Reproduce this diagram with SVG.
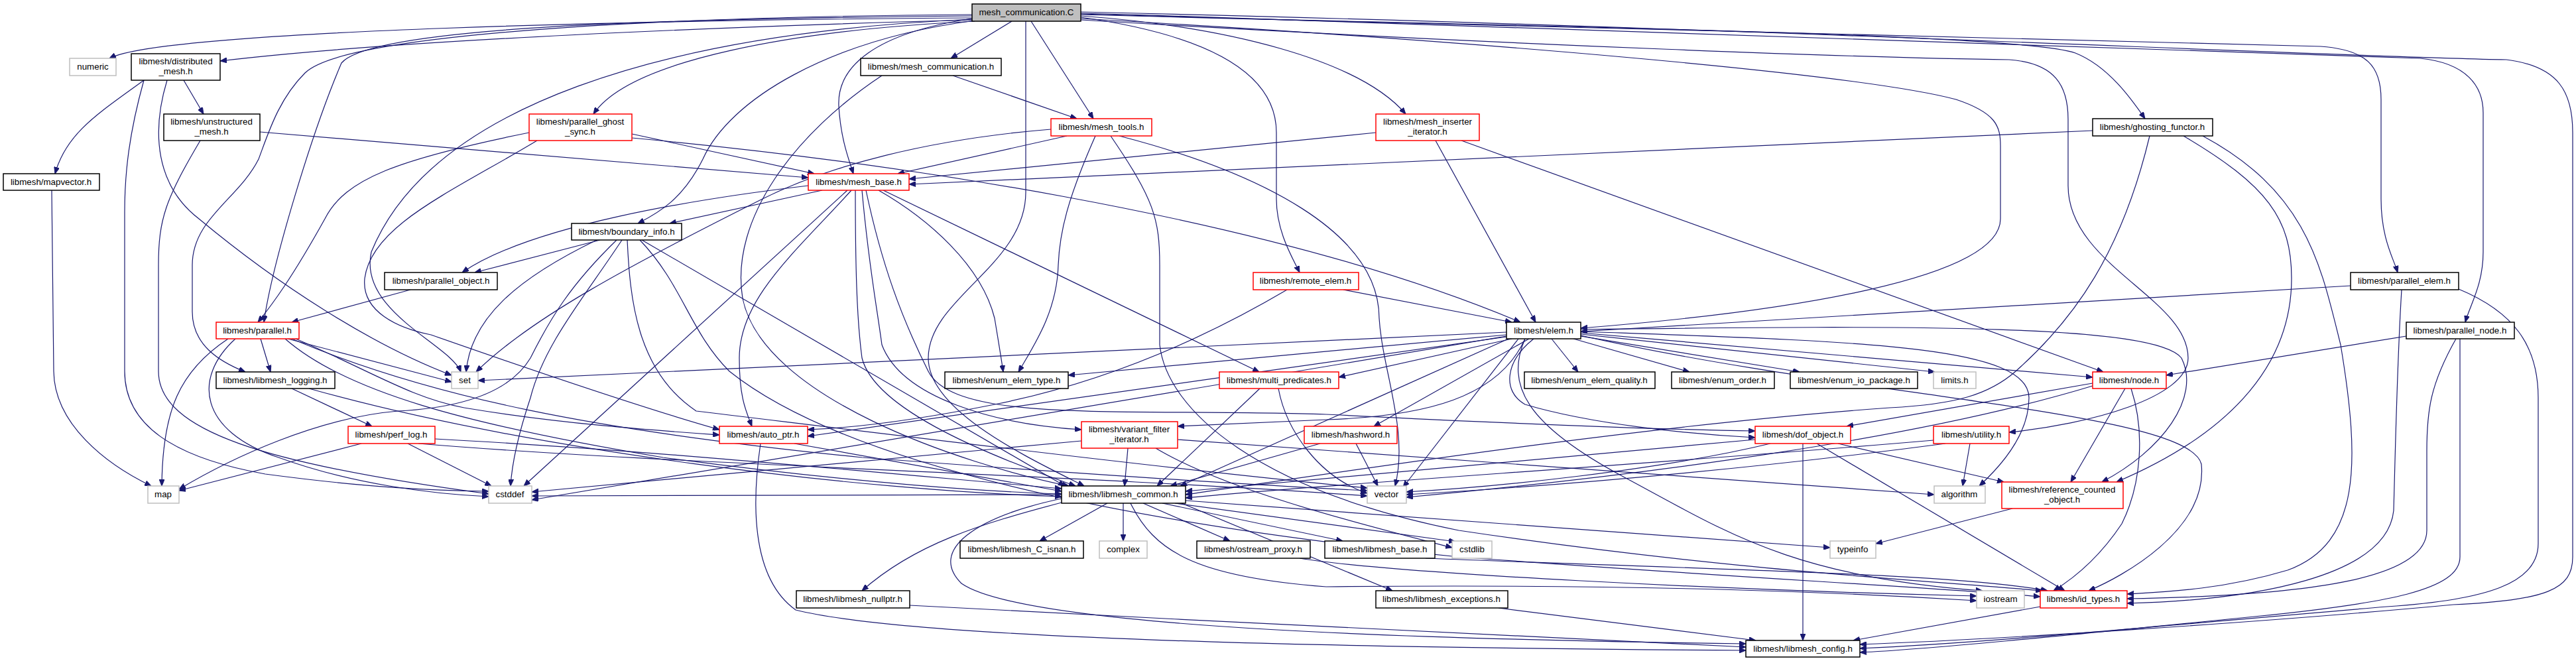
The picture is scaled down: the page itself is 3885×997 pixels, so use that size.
<svg xmlns="http://www.w3.org/2000/svg" width="3885" height="997" viewBox="0 0 3885 997">
<defs>
<marker id="arr" markerWidth="10" markerHeight="8" refX="10" refY="4" orient="auto" markerUnits="userSpaceOnUse" viewBox="0 0 10 8"><path d="M0,0 L10,4 L0,8 z" fill="#191970" stroke="#191970" stroke-width="1"/></marker>
<style>
.nd rect{fill:#ffffff;stroke:#000000;stroke-width:1.5}
.nd.r rect{stroke:#ff0000}
.nd.g rect{stroke:#bfbfbf}
.nd.c rect{fill:#bfbfbf}
text{font-family:"Liberation Sans",Arial,sans-serif;font-size:13.33px;text-anchor:middle;fill:#000000}
#edges path{fill:none;stroke:#191970;stroke-width:1.2;marker-end:url(#arr)}
</style>
</defs>
<rect x="0" y="0" width="3885" height="997" fill="#ffffff"/>
<g id="edges">
<path d="M1466,27 C1000,30 250,45 165,88"/>
<path d="M1466,30 C1100,40 600,60 332,92"/>
<path d="M1466,29 C1000,50 650,160 560,380 C540,470 680,520 695,561"/>
<path d="M1466,24 C1000,28 560,40 515,95 C470,200 410,400 398,486"/>
<path d="M1466,22 C1000,25 520,50 460,110 C420,150 405,200 390,240 C360,300 290,330 290,400 L290,470 C290,520 330,545 370,561"/>
<path d="M1470,32 C1200,45 950,90 895,172"/>
<path d="M1470,31 C1250,60 1100,150 1060,240 C1030,300 995,320 962,337"/>
<path d="M1466,28 C1320,50 1262,100 1265,160 C1268,210 1280,240 1287,262"/>
<path d="M1526,32 L1434,88"/>
<path d="M1555,32 L1649,179"/>
<path d="M1547,32 L1547,290 C1547,400 1400,450 1400,540 C1400,620 1550,690 1635,733"/>
<path d="M1630,26 C1800,50 1925,100 1925,200 L1925,300 C1925,350 1950,390 1960,411"/>
<path d="M1630,24 C1850,40 2050,90 2120,172"/>
<path d="M1630,28 C2200,60 2800,110 2950,150 C3010,170 3017,190 3017,220 L3017,330 C3017,420 2700,470 2384,495"/>
<path d="M1630,22 C2300,40 3050,50 3130,80 C3180,100 3215,150 3235,179"/>
<path d="M1630,21 C2400,45 3300,60 3500,70 C3570,75 3591,100 3591,150 L3591,300 C3591,360 3610,390 3616,411"/>
<path d="M1630,20 C2500,45 3400,80 3650,88 C3720,95 3745,130 3745,170 L3745,380 C3745,430 3725,460 3718,486"/>
<path d="M1630,18 C2600,40 3500,85 3780,90 C3860,100 3880,140 3880,200 L3880,840 C3880,890 3840,905 3700,912 C3400,940 3000,965 2805,972"/>
<path d="M1630,30 C2300,70 2850,88 3030,90 C3100,95 3119,130 3119,180 L3119,280 C3119,400 3300,450 3300,540 C3300,600 3150,640 3030,652"/>
<path d="M277,121 L307,172"/>
<path d="M217,121 C150,170 100,200 83,262"/>
<path d="M252,121 C228,200 235,280 300,330 C420,430 560,520 681,566"/>
<path d="M217,121 C195,200 188,260 188,320 L188,560 C188,640 260,690 400,715 C550,735 650,740 737,741"/>
<path d="M392,199 L1219,268"/>
<path d="M302,212 C250,300 239,330 239,400 L239,560 C239,650 400,700 737,745"/>
<path d="M78,287 L81,560 C82,640 160,700 228,733"/>
<path d="M1437,114 L1624,179"/>
<path d="M1330,114 C1200,200 1100,330 1120,450 C1150,600 1450,700 1612,733"/>
<path d="M1609,205 L1354,262"/>
<path d="M1585,195 C1400,210 1250,250 1150,300 C950,400 800,480 718,561"/>
<path d="M1652,205 C1610,300 1598,350 1596,400 C1594,470 1560,520 1536,561"/>
<path d="M1675,205 C1740,300 1749,330 1749,400 L1749,520 C1760,620 1900,740 2200,800 C2600,860 2900,875 3080,891"/>
<path d="M1688,205 C1900,260 2080,350 2080,480 C2085,560 2125,650 2104,733"/>
<path d="M798,200 C600,240 520,270 490,330 C440,420 410,460 389,486"/>
<path d="M810,212 C680,290 560,340 550,420 C545,470 600,495 650,505 C750,540 950,610 1085,648"/>
<path d="M953,202 L1228,262"/>
<path d="M953,208 C1300,240 1900,320 2293,486"/>
<path d="M2075,200 L1371,270"/>
<path d="M2165,212 L2316,486"/>
<path d="M2204,212 L3172,561"/>
<path d="M3156,197 L1371,278"/>
<path d="M3242,205 C3200,380 3130,480 3040,560 C3000,595 2950,610 2850,615 C2500,640 2100,700 1788,746"/>
<path d="M3293,205 C3420,280 3456,330 3456,420 C3456,560 3350,660 3192,727"/>
<path d="M3322,205 C3480,290 3500,400 3530,520 C3560,700 3560,820 3450,860 C3350,890 3260,893 3208,896"/>
<path d="M2026,437 L2280,486"/>
<path d="M1941,437 C1800,520 1650,580 1500,610 C1400,630 1300,645 1218,648"/>
<path d="M3545,431 L2384,500"/>
<path d="M3622,437 C3615,550 3612,700 3610,770 C3600,870 3400,905 3208,910"/>
<path d="M3708,436 C3790,470 3828,520 3828,600 L3828,820 C3828,880 3750,905 3600,915 C3300,940 3000,970 2805,978"/>
<path d="M3629,507 L3267,566"/>
<path d="M3704,511 C3665,580 3660,620 3660,680 L3660,800 C3660,870 3500,898 3208,903"/>
<path d="M3710,511 L3710,840 C3710,890 3600,910 3400,930 C3100,960 2900,980 2805,984"/>
<path d="M344,511 C270,560 245,620 244,733"/>
<path d="M355,511 C290,570 300,650 420,690 C530,730 650,745 737,749"/>
<path d="M393,511 L408,561"/>
<path d="M434,511 L681,576"/>
<path d="M446,511 C560,560 620,600 700,615 C850,640 1000,650 1085,656"/>
<path d="M430,511 C520,590 700,640 1000,690 C1300,730 1500,742 1601,745"/>
<path d="M440,511 C650,600 900,650 1300,690 C1700,720 1900,732 2062,740"/>
<path d="M440,586 L561,643"/>
<path d="M466,586 C800,680 1300,740 1601,749"/>
<path d="M545,669 L270,740"/>
<path d="M615,669 L741,733"/>
<path d="M656,662 C1000,680 1400,720 1601,737"/>
<path d="M631,669 C1000,700 1600,715 2062,748"/>
<path d="M905,362 L716,411"/>
<path d="M900,362 C780,420 710,480 703,561"/>
<path d="M930,362 C860,430 830,480 800,540 C770,590 700,615 600,620 C480,630 350,690 270,738"/>
<path d="M938,362 C880,450 820,520 800,600 C780,660 772,700 770,733"/>
<path d="M968,362 L1606,733"/>
<path d="M946,362 C950,450 960,560 1050,620 C1300,650 1800,712 2062,736"/>
<path d="M965,362 C1030,430 1040,500 1100,560 C1300,720 1800,800 2200,840 C2600,870 2900,885 3077,900"/>
<path d="M619,437 L440,486"/>
<path d="M1219,280 C1050,300 800,340 697,411"/>
<path d="M1240,287 L1010,337"/>
<path d="M1278,287 L790,733"/>
<path d="M1284,287 C1200,380 1115,450 1115,540 C1115,600 1125,620 1134,643"/>
<path d="M1290,287 C1290,400 1292,480 1300,540 C1320,620 1500,690 1622,733"/>
<path d="M1300,287 C1310,400 1322,460 1330,520 C1360,600 1500,640 1631,648"/>
<path d="M1306,287 C1330,400 1360,480 1400,560 C1440,640 1700,615 2000,625 C2300,640 2500,648 2647,650"/>
<path d="M1325,287 C1400,330 1480,400 1500,480 C1505,510 1510,540 1513,561"/>
<path d="M1332,287 L1899,561"/>
<path d="M1701,676 L1696,733"/>
<path d="M1631,665 L802,742"/>
<path d="M1776,663 L2917,746"/>
<path d="M1743,676 C1850,740 2050,790 2190,826"/>
<path d="M1928,586 C1940,650 1990,720 2062,744"/>
<path d="M1900,586 L1745,733"/>
<path d="M2045,669 L2078,733"/>
<path d="M1991,669 L1765,733"/>
<path d="M2647,663 L1788,741"/>
<path d="M2670,669 C2500,710 2250,735 2121,742"/>
<path d="M2719,669 L2719,966"/>
<path d="M2740,669 L3114,891"/>
<path d="M2772,669 L3022,727"/>
<path d="M2971,669 L2960,733"/>
<path d="M2934,669 C2700,700 2400,730 2121,746"/>
<path d="M2916,664 C2500,700 2000,730 1788,751"/>
<path d="M3156,578 L2785,643"/>
<path d="M3205,586 L3123,727"/>
<path d="M3214,586 C3235,650 3230,730 3200,790 C3160,850 3115,880 3097,891"/>
<path d="M3156,582 C2900,660 2500,715 2121,750"/>
<path d="M3035,767 L2829,820"/>
<path d="M1601,752 C1470,780 1400,830 1450,880 C1550,950 2200,965 2633,971"/>
<path d="M1601,758 C1480,790 1380,820 1300,891"/>
<path d="M1670,759 L1568,816"/>
<path d="M1694,759 L1694,816"/>
<path d="M1724,759 L1855,816"/>
<path d="M1753,759 L2025,816"/>
<path d="M1772,759 L2195,817"/>
<path d="M1788,755 L2760,826"/>
<path d="M1782,759 L2100,891"/>
<path d="M1705,759 C1740,830 1800,870 2000,885 C2500,880 2800,895 2981,906"/>
<path d="M1601,746 L802,748"/>
<path d="M1372,913 C1800,935 2300,962 2633,976"/>
<path d="M2260,917 L2648,966"/>
<path d="M1147,669 C1135,750 1130,870 1200,920 C1400,970 2200,978 2633,981"/>
<path d="M1198,669 L1601,741"/>
<path d="M3077,915 L2795,966"/>
<path d="M2150,842 C2600,860 2950,865 3088,891"/>
<path d="M1960,842 C2100,865 2600,890 2981,899"/>
<path d="M2272,501 L721,574"/>
<path d="M2272,505 L1611,566"/>
<path d="M2280,511 L2019,569"/>
<path d="M2272,508 L1218,658"/>
<path d="M2300,511 C2260,600 2150,628 2000,633 L1776,643"/>
<path d="M2306,511 L2072,643"/>
<path d="M2290,511 L2116,735"/>
<path d="M2313,511 C2270,545 2265,590 2300,610 C2400,640 2550,655 2647,660"/>
<path d="M2340,511 L2380,561"/>
<path d="M2373,511 L2548,561"/>
<path d="M2384,507 L2714,561"/>
<path d="M2384,504 L2918,561"/>
<path d="M2384,502 L3156,569"/>
<path d="M2384,500 C2800,515 3060,520 3060,600 C3060,660 3010,710 2985,733"/>
<path d="M2384,497 C2900,490 3250,490 3290,540 C3320,600 3260,680 3170,727"/>
<path d="M2384,506 C2800,600 3300,620 3320,700 C3330,800 3200,870 3150,891"/>
<path d="M2300,511 C2270,580 2300,640 2450,720 C2600,800 2700,870 2990,891"/>
<path d="M2272,507 L802,754"/>
<path d="M2275,511 L1780,733"/>
</g>
<g id="n_C" class="nd c"><rect x="1466" y="6" width="164" height="26"/><text x="1548" y="23">mesh_communication.C</text></g>
<g id="n_numeric" class="nd g"><rect x="105" y="88" width="70" height="26"/><text x="140" y="105">numeric</text></g>
<g id="n_distributed_mesh" class="nd"><rect x="198" y="81" width="134" height="40"/><text x="265" y="97">libmesh/distributed</text><text x="265" y="112">_mesh.h</text></g>
<g id="n_mesh_communication_h" class="nd"><rect x="1298" y="88" width="212" height="26"/><text x="1404" y="105">libmesh/mesh_communication.h</text></g>
<g id="n_mesh_tools" class="nd r"><rect x="1585" y="179" width="152" height="26"/><text x="1661" y="196">libmesh/mesh_tools.h</text></g>
<g id="n_parallel_ghost_sync" class="nd r"><rect x="798" y="172" width="155" height="40"/><text x="875" y="188">libmesh/parallel_ghost</text><text x="875" y="203">_sync.h</text></g>
<g id="n_unstructured_mesh" class="nd"><rect x="247" y="172" width="145" height="40"/><text x="319" y="188">libmesh/unstructured</text><text x="319" y="203">_mesh.h</text></g>
<g id="n_mesh_inserter_iterator" class="nd r"><rect x="2075" y="172" width="156" height="40"/><text x="2153" y="188">libmesh/mesh_inserter</text><text x="2153" y="203">_iterator.h</text></g>
<g id="n_ghosting_functor" class="nd"><rect x="3156" y="179" width="181" height="26"/><text x="3246" y="196">libmesh/ghosting_functor.h</text></g>
<g id="n_mapvector" class="nd"><rect x="5" y="262" width="145" height="25"/><text x="77" y="279">libmesh/mapvector.h</text></g>
<g id="n_mesh_base" class="nd r"><rect x="1219" y="262" width="152" height="25"/><text x="1295" y="279">libmesh/mesh_base.h</text></g>
<g id="n_boundary_info" class="nd"><rect x="862" y="337" width="166" height="25"/><text x="945" y="354">libmesh/boundary_info.h</text></g>
<g id="n_parallel_object" class="nd"><rect x="580" y="411" width="170" height="26"/><text x="665" y="428">libmesh/parallel_object.h</text></g>
<g id="n_remote_elem" class="nd r"><rect x="1890" y="411" width="159" height="26"/><text x="1969" y="428">libmesh/remote_elem.h</text></g>
<g id="n_parallel_elem" class="nd"><rect x="3545" y="411" width="163" height="26"/><text x="3626" y="428">libmesh/parallel_elem.h</text></g>
<g id="n_parallel" class="nd r"><rect x="326" y="486" width="125" height="25"/><text x="388" y="503">libmesh/parallel.h</text></g>
<g id="n_elem" class="nd"><rect x="2272" y="486" width="112" height="25"/><text x="2328" y="503">libmesh/elem.h</text></g>
<g id="n_parallel_node" class="nd"><rect x="3629" y="486" width="163" height="25"/><text x="3710" y="503">libmesh/parallel_node.h</text></g>
<g id="n_set" class="nd g"><rect x="681" y="561" width="40" height="25"/><text x="701" y="578">set</text></g>
<g id="n_libmesh_logging" class="nd"><rect x="326" y="561" width="179" height="25"/><text x="415" y="578">libmesh/libmesh_logging.h</text></g>
<g id="n_enum_elem_type" class="nd"><rect x="1425" y="561" width="186" height="25"/><text x="1518" y="578">libmesh/enum_elem_type.h</text></g>
<g id="n_multi_predicates" class="nd r"><rect x="1839" y="561" width="180" height="25"/><text x="1929" y="578">libmesh/multi_predicates.h</text></g>
<g id="n_enum_elem_quality" class="nd"><rect x="2299" y="561" width="197" height="25"/><text x="2397" y="578">libmesh/enum_elem_quality.h</text></g>
<g id="n_enum_order" class="nd"><rect x="2521" y="561" width="155" height="25"/><text x="2598" y="578">libmesh/enum_order.h</text></g>
<g id="n_enum_io_package" class="nd"><rect x="2700" y="561" width="192" height="25"/><text x="2796" y="578">libmesh/enum_io_package.h</text></g>
<g id="n_limits" class="nd g"><rect x="2916" y="561" width="64" height="25"/><text x="2948" y="578">limits.h</text></g>
<g id="n_node" class="nd r"><rect x="3156" y="561" width="111" height="25"/><text x="3211" y="578">libmesh/node.h</text></g>
<g id="n_perf_log" class="nd r"><rect x="525" y="643" width="131" height="26"/><text x="590" y="660">libmesh/perf_log.h</text></g>
<g id="n_auto_ptr" class="nd r"><rect x="1085" y="643" width="133" height="26"/><text x="1151" y="660">libmesh/auto_ptr.h</text></g>
<g id="n_variant_filter_iterator" class="nd r"><rect x="1631" y="636" width="145" height="40"/><text x="1703" y="652">libmesh/variant_filter</text><text x="1703" y="667">_iterator.h</text></g>
<g id="n_hashword" class="nd r"><rect x="1967" y="643" width="140" height="26"/><text x="2037" y="660">libmesh/hashword.h</text></g>
<g id="n_dof_object" class="nd r"><rect x="2647" y="643" width="144" height="26"/><text x="2719" y="660">libmesh/dof_object.h</text></g>
<g id="n_utility" class="nd r"><rect x="2916" y="643" width="114" height="26"/><text x="2973" y="660">libmesh/utility.h</text></g>
<g id="n_map" class="nd g"><rect x="223" y="733" width="47" height="26"/><text x="246" y="750">map</text></g>
<g id="n_cstddef" class="nd g"><rect x="737" y="733" width="65" height="26"/><text x="769" y="750">cstddef</text></g>
<g id="n_libmesh_common" class="nd"><rect x="1601" y="733" width="187" height="26"/><text x="1694" y="750">libmesh/libmesh_common.h</text></g>
<g id="n_vector" class="nd g"><rect x="2062" y="733" width="59" height="26"/><text x="2091" y="750">vector</text></g>
<g id="n_algorithm" class="nd g"><rect x="2917" y="733" width="77" height="26"/><text x="2955" y="750">algorithm</text></g>
<g id="n_reference_counted_object" class="nd r"><rect x="3019" y="727" width="183" height="40"/><text x="3110" y="743">libmesh/reference_counted</text><text x="3110" y="758">_object.h</text></g>
<g id="n_libmesh_C_isnan" class="nd"><rect x="1448" y="816" width="186" height="26"/><text x="1541" y="833">libmesh/libmesh_C_isnan.h</text></g>
<g id="n_complex" class="nd g"><rect x="1658" y="816" width="72" height="26"/><text x="1694" y="833">complex</text></g>
<g id="n_ostream_proxy" class="nd"><rect x="1805" y="816" width="171" height="26"/><text x="1890" y="833">libmesh/ostream_proxy.h</text></g>
<g id="n_libmesh_base" class="nd"><rect x="1998" y="816" width="166" height="26"/><text x="2081" y="833">libmesh/libmesh_base.h</text></g>
<g id="n_cstdlib" class="nd g"><rect x="2190" y="816" width="60" height="26"/><text x="2220" y="833">cstdlib</text></g>
<g id="n_typeinfo" class="nd g"><rect x="2760" y="816" width="69" height="26"/><text x="2794" y="833">typeinfo</text></g>
<g id="n_libmesh_nullptr" class="nd"><rect x="1201" y="891" width="171" height="26"/><text x="1286" y="908">libmesh/libmesh_nullptr.h</text></g>
<g id="n_libmesh_exceptions" class="nd"><rect x="2075" y="891" width="199" height="26"/><text x="2174" y="908">libmesh/libmesh_exceptions.h</text></g>
<g id="n_iostream" class="nd g"><rect x="2981" y="891" width="72" height="26"/><text x="3017" y="908">iostream</text></g>
<g id="n_id_types" class="nd r"><rect x="3077" y="891" width="131" height="26"/><text x="3142" y="908">libmesh/id_types.h</text></g>
<g id="n_libmesh_config" class="nd"><rect x="2633" y="966" width="172" height="25"/><text x="2719" y="983">libmesh/libmesh_config.h</text></g>
</svg>
